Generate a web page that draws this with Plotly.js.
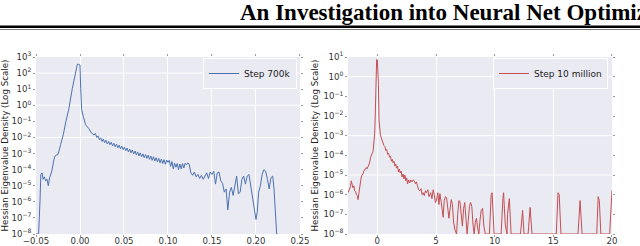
<!DOCTYPE html>
<html>
<head>
<meta charset="utf-8">
<script src="https://cdn.plot.ly/plotly-3.0.1.min.js"></script>
<style>html,body{margin:0;padding:0;background:#fff;}#chart{width:640px;height:246px;}</style>
</head>
<body>
<div id="chart"></div>
<script>
// ---- Data (density values stored as log10) ----
const eigen700k = [
-0.0500,-0.0470,-0.0455,-0.0445,-0.0430,-0.0420,-0.0405,-0.0390,-0.0375,-0.0360,-0.0345,-0.0320,-0.0300,-0.0285,-0.0270,-0.0250,-0.0220,-0.0190,-0.0160,-0.0125,-0.0087,-0.0049,-0.0030,-0.0019,0.0000,0.0008,0.0019,0.0038,0.0064,0.0100,0.0130,0.0159,
0.0175,0.0190,0.0205,0.0220,0.0235,0.0250,0.0265,0.0280,0.0295,0.0310,0.0325,0.0340,0.0355,0.0370,0.0385,0.0400,0.0415,0.0430,0.0445,0.0460,0.0475,0.0490,0.0505,0.0520,0.0535,0.0550,0.0565,0.0580,0.0595,0.0610,0.0625,0.0640,0.0655,0.0670,0.0685,0.0700,0.0715,0.0730,0.0745,0.0760,0.0775,0.0790,0.0805,0.0820,0.0835,0.0850,0.0865,0.0880,0.0895,0.0910,0.0925,0.0940,0.0955,0.0970,0.0985,0.1000,
0.1015,0.1030,0.1045,0.1060,0.1075,0.1090,0.1105,0.1120,0.1135,0.1150,0.1165,0.1180,0.1195,0.1210,0.1225,0.1240,0.1260,0.1280,0.1300,0.1320,0.1340,0.1360,0.1380,0.1400,0.1420,0.1440,0.1460,0.1480,0.1500,0.1520,0.1540,0.1560,0.1580,0.1600,0.1620,0.1640,0.1660,0.1680,0.1700,0.1720,0.1740,0.1760,0.1780,0.1800,0.1820,0.1840,0.1860,0.1880,0.1900,0.1920,0.1940,0.1960,0.1980,0.2000,0.2015,0.2030,0.2050,0.2070,0.2090,0.2110,0.2130,0.2150,0.2170,0.2190,0.2205,0.2220,0.2235,0.2245,0.2300
];
const logDensity700k = [
-8.00,-8.00,-6.00,-4.30,-4.20,-4.60,-4.45,-4.70,-4.60,-5.00,-4.50,-4.09,-3.47,-3.16,-3.10,-3.06,-2.44,-1.83,-1.00,-0.18,1.05,2.00,2.55,2.55,2.50,1.05,-0.28,-0.70,-1.21,-1.45,-1.72,
-1.85,-1.75,-2.00,-1.90,-2.14,-2.02,-2.25,-2.10,-2.32,-2.18,-2.40,-2.24,-2.45,-2.30,-2.52,-2.36,-2.58,-2.42,-2.64,-2.48,-2.70,-2.54,-2.76,-2.60,-2.82,-2.66,-2.90,-2.72,-2.95,-2.78,-3.02,-2.84,-3.08,-2.90,-3.15,-2.96,-3.20,-3.02,-3.26,-3.06,-3.30,-3.10,-3.36,-3.16,-3.42,-3.20,-3.46,-3.26,-3.52,-3.30,-3.58,-3.34,-3.62,-3.38,-3.66,-3.40,
-3.55,-3.42,-3.80,-3.50,-3.95,-3.60,-3.85,-3.62,-4.00,-3.65,-3.95,-3.62,-3.90,-3.60,-3.70,-3.58,-3.65,-4.20,-4.35,-4.15,-4.45,-4.30,-4.55,-4.35,-4.60,-4.40,-4.20,-4.55,-4.15,-4.30,-4.10,-4.90,-4.20,-4.15,-4.70,-4.85,-5.40,-5.20,-6.50,-5.40,-5.10,-5.60,-5.00,-4.40,-5.50,-5.40,-4.60,-4.40,-4.90,-4.40,-4.30,-5.00,-5.50,-6.40,-7.10,-6.60,-5.40,-5.00,-4.30,-4.00,-4.10,-4.60,-5.20,-4.50,-4.40,-5.20,-6.50,-8.00,-8.00
];

const eigen10m = [
-2.50,-2.40,-2.30,-2.22,-2.15,-2.08,-2.00,-1.94,-1.85,-1.79,-1.70,-1.65,-1.58,-1.51,-1.44,-1.37,-1.30,-1.23,-1.15,-1.08,-1.00,-0.94,-0.87,-0.80,-0.72,-0.66,-0.58,-0.51,-0.44,-0.37,-0.30,-0.23,-0.18,-0.14,-0.10,-0.06,0.00,0.05,0.09,0.14,0.20,0.26,0.33,0.40,0.48,0.56,0.64,0.72,0.80,0.88,0.96,1.05,1.12,1.20,1.27,1.34,1.42,1.50,1.57,1.64,1.72,1.80,1.88,1.95,2.03,2.10,2.19,2.27,2.35,2.43,2.50,2.58,2.66,2.76,2.85,2.95,3.05,3.15,3.25,3.33,3.42,3.52,3.62,3.72,3.82,3.90,4.00,4.10,4.19,4.30,4.40,4.47,4.55,4.65,4.76,4.85,4.95,5.04,5.15,5.25,5.33,5.45,5.55,5.61,5.70,5.80,5.90,6.00,6.10,6.18,6.30,6.40,6.50,6.62,6.75,6.85,6.95,7.04,7.15,7.25,7.35,7.45,7.55,7.65,7.75,7.85,7.95,8.05,8.15,8.25,8.35,8.45,8.55,8.65,8.75,8.85,8.97,9.08,9.20,9.55,9.70,9.78,9.95,10.55,10.70,10.76,10.90,11.05,11.10,11.25,11.40,12.20,12.38,12.50,12.85,13.02,13.18,15.25,15.40,15.50,15.65,17.10,17.28,17.45,18.70,18.82,18.92,19.05,19.80,19.95,20.00
];
const logDensity10m = [
-5.90,-5.75,-5.60,-5.30,-5.45,-5.65,-5.55,-5.80,-5.85,-6.00,-6.05,-6.25,-5.95,-5.60,-5.30,-5.10,-5.00,-4.95,-4.80,-4.72,-4.65,-4.62,-4.68,-4.60,-4.50,-4.38,-4.10,-3.95,-3.90,-3.82,-3.40,-2.90,-2.00,-0.90,0.40,0.88,0.85,0.20,-0.40,-2.20,-2.70,-2.95,-3.10,-3.25,-3.35,-3.50,-3.55,-3.75,-3.70,-3.95,-3.90,-4.10,-4.05,-4.30,-4.20,-4.38,-4.30,-4.55,-4.45,-4.65,-4.55,-4.85,-4.70,-4.90,-4.80,-5.10,-4.95,-5.20,-5.00,-5.30,-5.15,-5.45,-5.25,-5.40,-5.25,-5.35,-5.25,-5.30,-5.45,-5.35,-5.55,-5.75,-5.80,-5.70,-6.00,-5.90,-6.05,-5.80,-5.90,-5.75,-6.10,-6.00,-5.90,-6.20,-5.75,-6.00,-6.40,-6.30,-5.90,-6.50,-5.95,-6.40,-7.10,-7.15,-6.30,-6.10,-6.15,-6.80,-7.20,-6.80,-6.25,-6.50,-7.40,-7.80,-8.00,-7.00,-6.30,-6.35,-7.20,-7.60,-6.70,-6.40,-7.20,-8.00,-7.30,-6.60,-6.40,-6.60,-7.50,-8.00,-7.40,-7.20,-7.70,-8.00,-7.30,-6.80,-6.70,-7.60,-8.00,-8.00,-6.00,-5.90,-8.00,-8.00,-6.20,-5.90,-7.50,-8.00,-7.00,-6.20,-8.00,-8.00,-6.80,-8.00,-8.00,-6.65,-8.00,-8.00,-5.90,-6.00,-8.00,-8.00,-6.30,-8.00,-8.00,-6.10,-6.30,-8.00,-8.00,-5.85,-5.80
];

const seriesNames = ['Step 700k', 'Step 10 million'];
const xTicksLeft = [-0.05, 0.00, 0.05, 0.10, 0.15, 0.20, 0.25];
const xTicksRight = [0, 5, 10, 15, 20];
const decadesLeft = [-8,-7,-6,-5,-4,-3,-2,-1,0,1,2,3];
const decadesRight = [-8,-7,-6,-5,-4,-3,-2,-1,0,1];
const headerText = 'An Investigation into Neural Net Optimiz';
const yTitle = 'Hessian Eigenvalue Density (Log Scale)';

// ---- Build ----
const pow10 = a => a.map(v => Math.pow(10, v));
const fmtDec = v => (v < 0 ? '\u2212' : '') + Math.abs(v).toFixed(2);
const supLabel = e => '10<sup>' + (e < 0 ? '\u2212' + (-e) : e) + '</sup>';

const font = 'DejaVu Sans, sans-serif';
const tickFont = {family: font, size: 8.6, color: '#333'};
const bg = '#EAEAF2';

const traces = [
  {x: eigen700k, y: pow10(logDensity700k), xaxis: 'x', yaxis: 'y', type: 'scatter', mode: 'lines',
   name: seriesNames[0], legend: 'legend', line: {color: '#4C72B0', width: 1}},
  {x: eigen10m, y: pow10(logDensity10m), xaxis: 'x2', yaxis: 'y2', type: 'scatter', mode: 'lines',
   name: seriesNames[1], legend: 'legend2', line: {color: '#C44E52', width: 1}}
];

const xCommon = {showgrid: true, gridcolor: '#ffffff', gridwidth: 1, zeroline: false, showline: false,
  ticks: 'outside', ticklen: 2, tickcolor: '#999', mirror: 'ticks', tickfont: tickFont, automargin: false,
  ticklabelstandoff: -3};
const yCommon = {type: 'log', showgrid: false, zeroline: false, showline: false,
  ticks: 'outside', ticklen: 2, tickcolor: '#999', mirror: 'ticks', tickfont: tickFont, automargin: false};

const hLine = (yref, v) => ({type: 'line', layer: 'below', xref: yref === 'y' ? 'x domain' : 'x2 domain',
  x0: 0, x1: 1, yref: yref, y0: v, y1: v, line: {color: '#ffffff', width: 1}});

const layout = {
  width: 640, height: 246,
  margin: {l: 36, r: 28, t: 57, b: 12},
  paper_bgcolor: '#ffffff', plot_bgcolor: bg,
  showlegend: true,
  title: {text: '<b>' + headerText + '</b>', x: 240/640, xanchor: 'left', xref: 'container',
          y: 1 - 12/246, yanchor: 'middle', yref: 'container',
          font: {family: 'Liberation Serif, Times New Roman, serif', size: 23, color: '#000'}},
  xaxis: Object.assign({}, xCommon, {domain: [0, 0.4583], range: [-0.05, 0.25], anchor: 'y',
    tickmode: 'array', tickvals: xTicksLeft, ticktext: xTicksLeft.map(fmtDec)}),
  yaxis: Object.assign({}, yCommon, {domain: [0, 1], range: [-8, 3], anchor: 'x',
    tickmode: 'array', tickvals: pow10(decadesLeft), ticktext: decadesLeft.map(supLabel),
    title: {text: yTitle, font: {family: font, size: 8.7, color: '#222'}, standoff: 3}}),
  xaxis2: Object.assign({}, xCommon, {domain: [0.5417, 1], range: [-2.5, 20], anchor: 'y2',
    tickmode: 'array', tickvals: xTicksRight, ticktext: xTicksRight.map(String)}),
  yaxis2: Object.assign({}, yCommon, {domain: [0, 1], range: [-8, 1], anchor: 'x2',
    tickmode: 'array', tickvals: pow10(decadesRight), ticktext: decadesRight.map(supLabel),
    title: {text: yTitle, font: {family: font, size: 8.7, color: '#222'}, standoff: 3}}),
  legend: {x: (297-36)/576, xanchor: 'right', y: (234-58)/177, yanchor: 'top',
    bgcolor: bg, bordercolor: '#ffffff', borderwidth: 1, font: {family: font, size: 9, color: '#222'}},
  legend2: {x: (608-36)/576, xanchor: 'right', y: (234-58)/177, yanchor: 'top',
    bgcolor: bg, bordercolor: '#ffffff', borderwidth: 1, font: {family: font, size: 9, color: '#222'}},
  shapes: [
    hLine('y', 100), hLine('y', 1), hLine('y', 0.01),
    hLine('y2', 1), hLine('y2', 0.001), hLine('y2', 0.00001),
    {type: 'rect', xref: 'paper', yref: 'paper', x0: -36/576, x1: 604/576,
     y0: (234-28)/177, y1: (234-25.5)/177, fillcolor: '#000', line: {width: 0}},
    {type: 'rect', xref: 'paper', yref: 'paper', x0: -36/576, x1: 604/576,
     y0: (234-30)/177, y1: (234-29.2)/177, fillcolor: '#555', line: {width: 0}}
  ]
};

Plotly.newPlot('chart', traces, layout, {staticPlot: true, displayModeBar: false});
</script>
</body>
</html>
